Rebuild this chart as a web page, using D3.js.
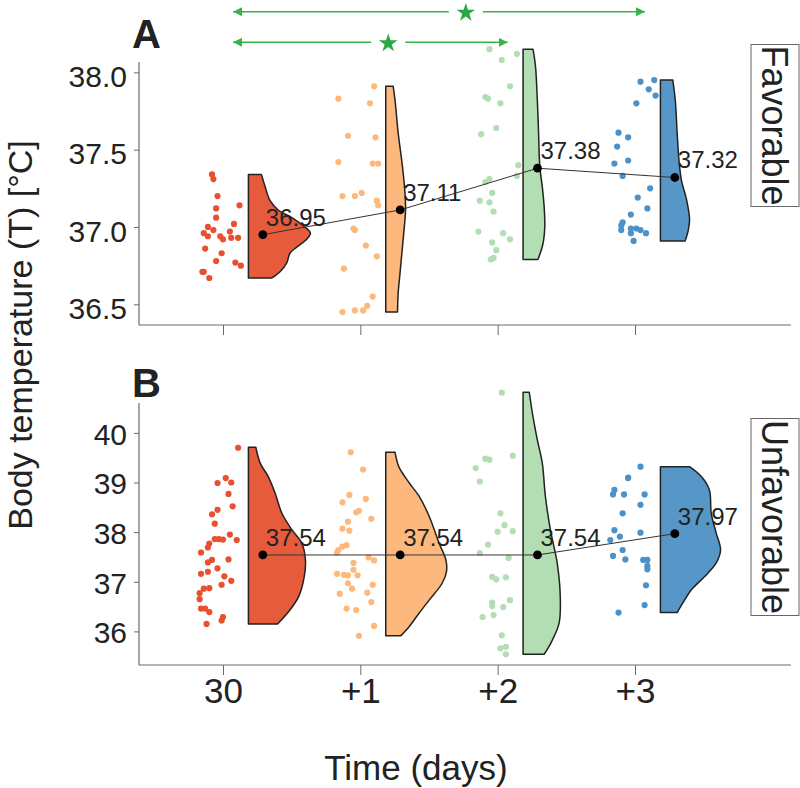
<!DOCTYPE html>
<html><head><meta charset="utf-8">
<script src="https://cdn.jsdelivr.net/npm/d3@7"></script>
<style>
body{margin:0;background:#fff}
svg{display:block}
text{font-family:"Liberation Sans", Arial, Helvetica, sans-serif;fill:#222}
</style>
</head><body>
<svg id="c" width="800" height="788"></svg>
<script>
// ---------------- DATA ----------------
const days = ["30", "+1", "+2", "+3"];
const conditions = ["Favorable", "Unfavorable"];
const panelLetters = ["A", "B"];

const meansFavorable = [36.95, 37.11, 37.38, 37.32];
const meansUnfavorable = [37.54, 37.54, 37.54, 37.97];

const ticksFavorable = [36.5, 37.0, 37.5, 38.0];
const ticksUnfavorable = [36, 37, 38, 39, 40];

// individual observations: [jitter (% of category step), temperature]
const favorable30 = [[-8,37.34],[-7,37.31],[-4,37.20],[12,37.14],[-5,37.12],[-5,37.06],[8,37.02],[-11,37.00],[-14,36.96],[-11,36.94],[-7,36.98],[-2,36.94],[0,36.92],[5,36.97],[6,36.93],[11,36.93],[-13,36.86],[-1,36.83],[-5,36.78],[9,36.77],[13,36.75],[-15,36.71],[-14,36.71],[-10,36.67]];
const favorable1 = [[10,37.91],[-16,37.83],[7,37.80],[-9,37.59],[11,37.58],[-16,37.42],[9,37.41],[13,37.41],[-13,37.20],[-4,37.20],[1,37.22],[12,37.17],[13,37.14],[-5,36.99],[-4,36.98],[4,36.88],[12,36.81],[-12,36.73],[9,36.55],[5,36.49],[2,36.46],[-4,36.46],[-13,36.45]];
const favorable2 = [[-6,38.15],[14,38.12],[3,38.08],[9,37.91],[-9,37.84],[-7,37.83],[2,37.80],[-1,37.64],[-12,37.60],[15,37.40],[14,37.33],[-6,37.31],[-9,37.29],[-4,37.22],[-13,37.17],[-6,37.16],[-3,37.10],[-14,36.97],[4,36.96],[9,36.92],[-4,36.90],[-1,36.85],[-3,36.80],[-5,36.79]];
const favorable3 = [[4,37.94],[14,37.95],[10,37.89],[15,37.85],[1,37.80],[-12,37.61],[-5,37.58],[-13,37.52],[-15,37.41],[-5,37.43],[-9,37.33],[11,37.25],[2,37.19],[9,37.12],[-3,37.08],[-9,37.03],[-10,37.01],[-10,36.98],[-3,36.99],[1,36.99],[4,36.98],[-3,36.96],[8,36.96],[-1,36.91]];

const unfavorable30 = [[11,39.70],[-4,38.99],[2,39.09],[6,39.00],[4,38.77],[7,38.52],[-8,38.36],[-4,38.45],[-6,38.17],[-10,37.77],[-11,37.69],[-16,37.59],[-6,37.86],[-3,37.86],[0,37.85],[5,37.95],[10,37.84],[-8,37.44],[-11,37.39],[4,37.45],[-16,37.16],[-11,37.20],[-4,37.27],[1,37.11],[6,37.02],[-1,36.94],[-14,36.86],[-10,36.87],[-17,36.77],[-17,36.65],[-16,36.46],[-13,36.46],[-10,36.39],[0,36.29],[-1,36.22],[-12,36.15]];
const unfavorable1 = [[-7,39.61],[2,39.26],[-8,38.75],[-13,38.60],[4,38.67],[-3,38.40],[-1,38.43],[8,38.27],[-9,38.21],[-13,38.07],[-8,38.03],[-10,37.74],[-16,37.64],[-17,37.59],[-13,37.71],[6,37.49],[10,37.43],[-5,37.38],[-17,37.16],[-12,37.14],[-9,37.13],[-2,37.13],[-5,37.24],[-9,36.97],[-6,36.86],[9,36.94],[-15,36.76],[5,36.78],[8,36.59],[-10,36.46],[-3,36.43],[10,36.11],[-1,35.91]];
const unfavorable2 = [[3,40.81],[-16,39.29],[-9,39.48],[-6,39.46],[11,39.54],[-13,39.02],[2,38.38],[5,38.14],[0,38.01],[11,38.02],[-7,37.75],[-13,37.58],[8,37.48],[-4,37.10],[-1,37.05],[6,37.09],[-4,36.58],[-4,36.51],[9,36.63],[4,36.49],[-3,36.33],[-11,36.29],[3,35.92],[2,35.66],[6,35.69],[6,35.54]];
const unfavorable3 = [[4,39.32],[-5,39.10],[-5,39.09],[-15,38.85],[-16,38.76],[-8,38.76],[7,38.76],[4,38.55],[-9,38.38],[-15,38.04],[-11,37.91],[-18,37.84],[4,37.99],[-9,37.64],[-16,37.52],[-7,37.45],[6,37.44],[9,37.44],[9,37.32],[9,37.25],[8,36.93],[7,36.53],[-12,36.38]];

// half-violin density profiles: [temperature, relative density]
const densFavorable30 = [[37.34,0.21],[37.26,0.27],[37.17,0.35],[37.11,0.48],[37.06,0.70],[37.00,0.91],[36.96,1.00],[36.92,0.94],[36.87,0.78],[36.83,0.67],[36.77,0.62],[36.71,0.51],[36.67,0.38]];
const densFavorable1 = [[37.91,0.12],[37.82,0.15],[37.61,0.20],[37.39,0.27],[37.22,0.31],[37.11,0.32],[36.96,0.29],[36.83,0.26],[36.70,0.23],[36.57,0.20],[36.45,0.19]];
const densFavorable2 = [[38.15,0.16],[38.04,0.20],[37.82,0.23],[37.61,0.25],[37.39,0.27],[37.26,0.31],[37.13,0.34],[37.00,0.35],[36.89,0.32],[36.79,0.24]];
const densFavorable3 = [[37.95,0.20],[37.82,0.24],[37.61,0.27],[37.43,0.30],[37.30,0.34],[37.18,0.42],[37.05,0.47],[36.98,0.45],[36.91,0.40]];
const densUnfavorable30 = [[39.71,0.12],[39.39,0.19],[39.12,0.32],[38.79,0.43],[38.38,0.54],[38.05,0.70],[37.78,0.86],[37.44,0.92],[37.10,0.90],[36.70,0.81],[36.40,0.65],[36.15,0.47]];
const densUnfavorable1 = [[39.61,0.15],[39.32,0.21],[38.99,0.38],[38.72,0.54],[38.32,0.70],[37.78,0.86],[37.44,0.97],[37.21,0.98],[36.97,0.91],[36.63,0.70],[36.37,0.54],[36.10,0.38],[35.91,0.24]];
const densUnfavorable2 = [[40.82,0.10],[40.40,0.15],[39.86,0.23],[39.39,0.31],[38.72,0.36],[38.05,0.44],[37.38,0.55],[36.70,0.60],[36.16,0.58],[35.77,0.45],[35.54,0.34]];
const densUnfavorable3 = [[39.32,0.47],[39.12,0.66],[38.85,0.79],[38.38,0.82],[37.98,0.90],[37.64,0.97],[37.38,0.90],[37.10,0.71],[36.84,0.50],[36.57,0.36],[36.38,0.27]];

// significance comparisons in panel A (day pairs)
const comparisons = [["30", "+2"], ["30", "+3"]];

// ---------------- STYLE / LAYOUT ----------------
const violinFill = ["#E65B3C", "#FDB97D", "#B3DDB2", "#5797C7"];
const dotFill    = ["#E8502F", "#FDB97D", "#B3DDB2", "#4C92C8"];
const axisColor = "#6a6a6a";
const sigColor = "#36b34a";

const svg = d3.select("#c");

const panels = [
  { means: meansFavorable, ticks: ticksFavorable, fmt: d3.format(".1f"),
    points: [favorable30, favorable1, favorable2, favorable3],
    dens: [densFavorable30, densFavorable1, densFavorable2, densFavorable3],
    top: 62, bottom: 325, yDomain: [36.366, 38.067], tickDy: "0.47em",
    strip: {y: 44.5, h: 162}, letterY: 48, showXLabels: false },
  { means: meansUnfavorable, ticks: ticksUnfavorable, fmt: d3.format("d"),
    points: [unfavorable30, unfavorable1, unfavorable2, unfavorable3],
    dens: [densUnfavorable30, densUnfavorable1, densUnfavorable2, densUnfavorable3],
    top: 403, bottom: 665, yDomain: [35.323, 40.602], tickDy: "0.38em",
    strip: {y: 418.5, h: 197}, letterY: 397, showXLabels: true }
];

const left = 139, right = 791;
const x = d3.scalePoint().domain(days).range([223, 635]).padding(0);
const step = x.step();
const wScale = d3.scaleLinear().domain([0, 1]).range([0, 62]);
const violinOffset = 0.185 * step;
const meanOffset = 0.29 * step;

panels.forEach((p, pi) => {
  const y = d3.scaleLinear().domain(p.yDomain).range([p.bottom, p.top]);
  const g = svg.append("g");

  // axes
  const ya = g.append("g").attr("transform", `translate(${left},0)`)
    .call(d3.axisLeft(y).tickValues(p.ticks).tickFormat(p.fmt).tickSize(5).tickPadding(7).tickSizeOuter(0));
  ya.select(".domain").remove();
  ya.selectAll("line").attr("stroke", axisColor);
  ya.selectAll("text").attr("font-size", 30).attr("dy", p.tickDy)
    .style("font-family", '"Liberation Sans", Arial, sans-serif').attr("fill", "#222");

  const xa = g.append("g").attr("transform", `translate(0,${p.bottom})`)
    .call(d3.axisBottom(x).tickSize(10).tickPadding(3).tickSizeOuter(0));
  xa.select(".domain").remove();
  xa.selectAll("line").attr("stroke", axisColor);
  if (p.showXLabels) {
    xa.selectAll("text").attr("font-size", 35)
      .style("font-family", '"Liberation Sans", Arial, sans-serif').attr("fill", "#222");
  } else {
    xa.selectAll("text").remove();
  }
  g.append("line").attr("x1", left).attr("x2", left).attr("y1", p.top).attr("y2", p.bottom)
    .attr("stroke", axisColor).attr("stroke-width", 1.2);
  g.append("line").attr("x1", left).attr("x2", right).attr("y1", p.bottom).attr("y2", p.bottom)
    .attr("stroke", axisColor).attr("stroke-width", 1.2);

  // jittered raw points
  days.forEach((d, i) => {
    g.append("g").selectAll("circle").data(p.points[i]).join("circle")
      .attr("cx", q => x(d) + q[0] / 100 * step)
      .attr("cy", q => y(q[1]))
      .attr("r", 3.1)
      .attr("fill", dotFill[i]);
  });

  // half violins
  days.forEach((d, i) => {
    const vx = x(d) + violinOffset;
    const area = d3.area().curve(d3.curveCatmullRom)
      .y(q => y(q[0])).x0(vx).x1(q => vx + wScale(q[1]));
    g.append("path").datum(p.dens[i]).attr("d", area)
      .attr("fill", violinFill[i]).attr("stroke", "#222").attr("stroke-width", 1.5)
      .attr("stroke-linejoin", "round");
  });

  // mean line + points + labels
  const mean = days.map((d, i) => [x(d) + meanOffset, y(p.means[i]), p.means[i]]);
  g.append("path").datum(mean)
    .attr("d", d3.line().x(q => q[0]).y(q => q[1]))
    .attr("fill", "none").attr("stroke", "#333").attr("stroke-width", 1);
  g.append("g").selectAll("circle").data(mean).join("circle")
    .attr("cx", q => q[0]).attr("cy", q => q[1]).attr("r", 4.4).attr("fill", "#000");
  g.append("g").selectAll("text").data(mean).join("text")
    .attr("x", q => q[0] + 3).attr("y", q => q[1] - 9)
    .attr("font-size", 24).text(q => d3.format(".2f")(q[2]));

  // strip label
  const s = g.append("g");
  s.append("rect").attr("x", 751).attr("y", p.strip.y).attr("width", 48).attr("height", p.strip.h)
    .attr("fill", "#fff").attr("stroke", "#666").attr("stroke-width", 1);
  s.append("text")
    .attr("transform", `translate(762,${p.strip.y + p.strip.h / 2}) rotate(90)`)
    .attr("text-anchor", "middle").attr("font-size", 36).text(conditions[pi]);

  // panel letter
  g.append("text").attr("x", 132).attr("y", p.letterY).attr("font-size", 40)
    .attr("font-weight", "bold").attr("fill", "#1a1a1a").text(panelLetters[pi]);

  // significance arrows (panel A only)
  if (pi === 0) {
    const defs = svg.append("defs");
    defs.append("marker").attr("id", "arr").attr("viewBox", "0 0 9 9")
      .attr("refX", 9).attr("refY", 4.5).attr("markerWidth", 9).attr("markerHeight", 9)
      .attr("markerUnits", "userSpaceOnUse").attr("orient", "auto-start-reverse")
      .append("path").attr("d", "M0,0 L9,4.5 L0,9 Z").attr("fill", sigColor);
    const levels = [42.3, 11.7];
    const arrowOff = 0.073 * step;
    comparisons.forEach((c, ci) => {
      const x1 = x(c[0]) + arrowOff, x2 = x(c[1]) + arrowOff;
      const sx = x1 + 0.565 * (x2 - x1);
      const yy = levels[ci];
      g.append("line").attr("x1", sx - 17).attr("x2", x1).attr("y1", yy).attr("y2", yy)
        .attr("stroke", sigColor).attr("stroke-width", 1.5).attr("marker-end", "url(#arr)");
      g.append("line").attr("x1", sx + 17).attr("x2", x2).attr("y1", yy).attr("y2", yy)
        .attr("stroke", sigColor).attr("stroke-width", 1.5).attr("marker-end", "url(#arr)");
      g.append("path").attr("d", d3.symbol(d3.symbolStar, 108)())
        .attr("transform", `translate(${sx},${yy + 1})`).attr("fill", "#2aa845");
    });
  }
});

// axis titles
svg.append("text").attr("transform", "translate(32,335) rotate(-90)")
  .attr("text-anchor", "middle").attr("font-size", 34).text("Body temperature (T) [°C]");
svg.append("text").attr("x", 416).attr("y", 780)
  .attr("text-anchor", "middle").attr("font-size", 35).text("Time (days)");
</script>
</body></html>
